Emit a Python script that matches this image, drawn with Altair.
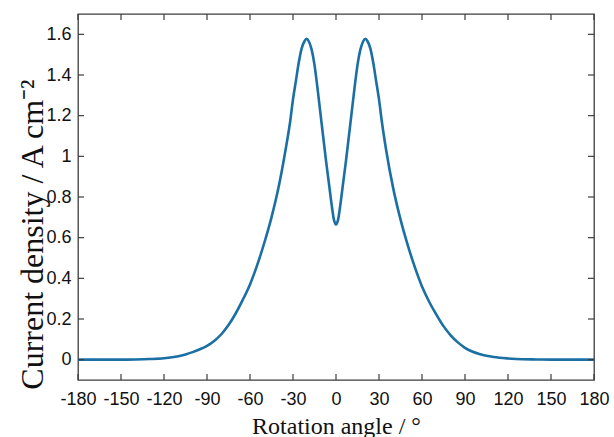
import altair as alt
import pandas as pd

# Curve (rotation angle in degrees, current density in A cm^-2)
angles = [-180, -165, -150, -140, -130, -120, -110, -105, -100, -95, -90, -85, -80, -75,
          -70, -65, -60, -55, -50, -45, -40, -35, -32, -30, -28, -26, -24, -22, -20.5,
          -19, -17, -15, -13, -11, -9, -7, -5, -3, -1.5, 0,
          1.5, 3, 5, 7, 9, 11, 13, 15, 17, 19, 20.5, 22, 24, 26, 28, 30, 32, 35, 40, 45,
          50, 55, 60, 65, 70, 75, 80, 85, 90, 95, 100, 105, 110, 120, 130, 140, 150, 165, 180]
density = [0.0, 0.0, 0.0, 0.001, 0.003, 0.007, 0.017, 0.026, 0.037, 0.051, 0.068, 0.092, 0.125, 0.17,
           0.227, 0.295, 0.37, 0.465, 0.575, 0.70, 0.85, 1.04, 1.17, 1.28, 1.37, 1.46, 1.53, 1.566, 1.578,
           1.566, 1.525, 1.45, 1.34, 1.22, 1.10, 0.98, 0.87, 0.76, 0.69, 0.665,
           0.69, 0.76, 0.87, 0.98, 1.10, 1.22, 1.34, 1.45, 1.525, 1.566, 1.578, 1.566, 1.53, 1.46, 1.37, 1.28, 1.17, 1.03, 0.84, 0.69,
           0.565, 0.455, 0.36, 0.285, 0.222, 0.165, 0.12, 0.085, 0.058, 0.04, 0.028, 0.019, 0.013, 0.006, 0.002, 0.001, 0.0, 0.0, 0.0]

x_ticks = [-180, -150, -120, -90, -60, -30, 0, 30, 60, 90, 120, 150, 180]
y_ticks = [0, 0.2, 0.4, 0.6, 0.8, 1, 1.2, 1.4, 1.6]

W, H = 516, 366
TICK = 6
FRAME = "#3c3c3c"
LINE = "#1a6fa3"

curve = pd.DataFrame({"angle": angles, "density": density})
xt = pd.DataFrame({"angle": x_ticks})
yt = pd.DataFrame({"density": y_ticks})

xscale = alt.Scale(domain=[-180, 180], nice=False, zero=False)
yscale = alt.Scale(domain=[-0.1, 1.7], nice=False, zero=False)

xaxis = alt.Axis(
    values=x_ticks, labelExpr="datum.value + ''", title="Rotation angle / °",
    domain=False, ticks=False, grid=False, labelFlush=False, labelOverlap=False,
    labelFont="Liberation Sans", labelFontSize=18, labelColor="#111111", labelPadding=10,
    titleFont="Liberation Serif", titleFontSize=24, titleFontWeight="normal", titleColor="#111111",
    titleY=53, titleBaseline="alphabetic")
yaxis = alt.Axis(
    values=y_ticks, labelExpr="datum.value + ''", title="Current density / A cm⁻²",
    domain=False, ticks=False, grid=False, labelOverlap=False, labelFlush=False,
    labelFont="Liberation Sans", labelFontSize=18, labelColor="#111111", labelPadding=7,
    titleFont="Liberation Serif", titleFontSize=32, titleFontWeight="normal", titleColor="#111111",
    titleAngle=270, titleAlign="center", titleBaseline="alphabetic", titleX=-36, titleY=220)

X = alt.X("angle:Q", scale=xscale, axis=xaxis)
Y = alt.Y("density:Q", scale=yscale, axis=yaxis)

line = alt.Chart(curve).mark_line(color=LINE, strokeWidth=2.6, interpolate="monotone").encode(x=X, y=Y)

bottom_ticks = alt.Chart(xt).mark_rule(color=FRAME, strokeWidth=1.2).encode(
    x=X, y=alt.value(H), y2=alt.value(H - TICK))
top_ticks = alt.Chart(xt).mark_rule(color=FRAME, strokeWidth=1.2).encode(
    x=X, y=alt.value(0), y2=alt.value(TICK))
left_ticks = alt.Chart(yt).mark_rule(color=FRAME, strokeWidth=1.2).encode(
    y=Y, x=alt.value(0), x2=alt.value(TICK))
right_ticks = alt.Chart(yt).mark_rule(color=FRAME, strokeWidth=1.2).encode(
    y=Y, x=alt.value(W), x2=alt.value(W - TICK))

chart = alt.layer(line, bottom_ticks, top_ticks, left_ticks, right_ticks).properties(
    width=W, height=H,
    autosize=alt.AutoSizeParams(type="none"),
    padding={"left": 78, "top": 14, "right": 20, "bottom": 57},
    background="white",
).configure_view(stroke=FRAME, strokeWidth=1.3)

chart.save("out.html", embed_options={"renderer": "svg", "actions": False})
